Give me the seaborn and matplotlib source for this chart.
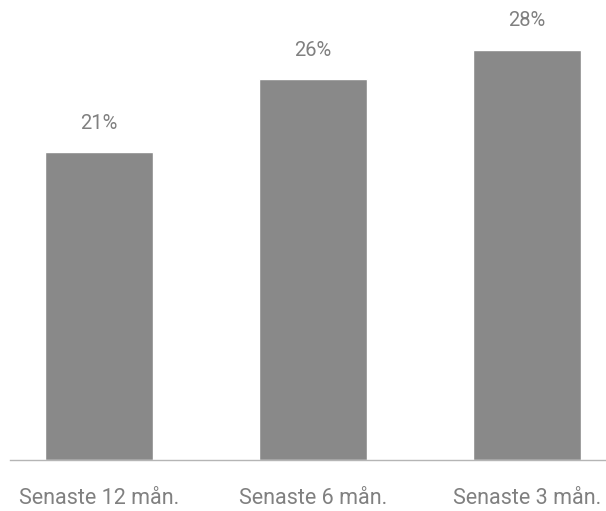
import matplotlib
matplotlib.use("Agg")
import matplotlib.pyplot as plt
import seaborn as sns
import pandas as pd

categories = ["Senaste 12 mån.", "Senaste 6 mån.", "Senaste 3 mån."]
values = [21, 26, 28]
value_labels = ["21%", "26%", "28%"]

sns.set_theme(style="white")
plt.rcParams["font.family"] = ["Roboto", "DejaVu Sans"]

df = pd.DataFrame({"period": categories, "share": values})

fig = plt.figure(figsize=(6.06, 5.11), dpi=100)
ax = fig.add_axes([10 / 606, (511 - 460) / 511, 1 - 10 / 606, 460 / 511])

sns.barplot(data=df, x="period", y="share", color="#898989", width=0.505,
            saturation=1, ax=ax)

ax.set_xlim(-0.416, 2.37)
ax.set_ylim(0, 31.4)

for patch, lab in zip(ax.patches, value_labels):
    ax.annotate(lab, (patch.get_x() + patch.get_width() / 2, patch.get_height()),
                xytext=(0, 14), textcoords="offset points", ha="center", va="bottom",
                fontsize=14.5, color="#808080")

for s in ["top", "right", "left"]:
    ax.spines[s].set_visible(False)
ax.spines["bottom"].set_color("#b5b5b5")
ax.spines["bottom"].set_linewidth(1.0)

ax.set_yticks([])
ax.set_xlabel("")
ax.set_ylabel("")
ax.tick_params(axis="x", length=0, pad=20, labelsize=15.5, labelcolor="#808080")

fig.savefig("out.png", dpi=100)
